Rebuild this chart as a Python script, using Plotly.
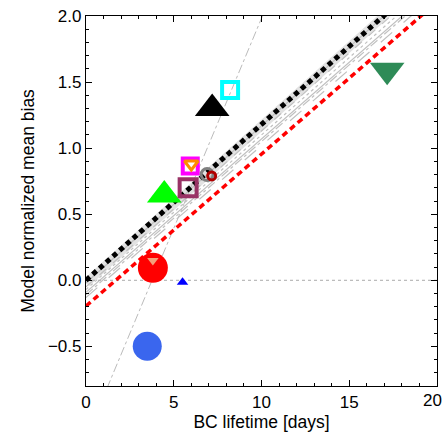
import plotly.graph_objects as go

# Model points: BC lifetime [days] vs normalized mean bias
pt_x = [3.49, 3.81, 3.81, 5.5, 4.46, 5.82, 5.94, 6.0, 6.9, 7.16, 7.19, 8.21, 17.16]
pt_y = [-0.50, 0.094, 0.15, -0.015, 0.645, 0.70, 0.865, 0.88, 0.80, 0.79, 1.30, 1.44, 1.59]
pt_symbol = ["circle", "circle", "triangle-down", "triangle-up", "triangle-up",
             "square-open", "square-open", "triangle-down-open", "circle-open",
             "circle-open", "triangle-up", "square-open", "triangle-down"]
pt_color = ["#3A66EE", "#FF0000", "#F4A07A", "#0000FF", "#00FF00", "#993366",
            "#FF00FF", "#FF8C00", "#808080", "#B00000", "#000000", "#00FFFF", "#2E8B57"]
pt_size = [29, 30, 10, 10, 30, 17, 15, 12, 12, 8, 30, 16, 30]
pt_lw = [0, 0, 0, 0, 0, 4, 4, 3, 3, 3, 0, 4, 0]

# Regression lines (slope, intercept)
black_fit = (0.118, 0.0)
red_fit = (0.115, -0.195)
grey_slopes = [0.119, 0.118, 0.117, 0.116, 0.116, 0.115]
grey_inter = [-0.02, -0.05, -0.07, -0.09, -0.11, -0.13]
grey_dash = ["solid", "dash", "dot", "solid", "dashdot", "longdash"]
steep_fit = (0.318, -1.197)

x_ticks = [0, 5, 10, 15, 20]
x_ticklabels = ["0", "5", "10", "15", "20"]
y_ticks = [-0.5, 0, 0.5, 1.0, 1.5, 2.0]
y_ticklabels = ["\u22120.5", "0.0", "0.5", "1.0", "1.5", "2.0"]

x_line = [0, 20]
FONT = "Liberation Sans, Arial"

fig = go.Figure()

# light grey band
fig.add_trace(go.Scatter(x=x_line, y=[grey_inter[0] + grey_slopes[0]*x for x in x_line],
                         mode="lines", line=dict(color="#e2e2e2", width=9), hoverinfo="skip"))
for s, b, d in zip(grey_slopes, grey_inter, grey_dash):
    fig.add_trace(go.Scatter(x=x_line, y=[b + s*x for x in x_line], mode="lines",
                             line=dict(color="#c0c0c0", width=1.2, dash=d), hoverinfo="skip"))

fig.add_trace(go.Scatter(x=x_line, y=[steep_fit[1] + steep_fit[0]*x for x in x_line],
                         mode="lines", line=dict(color="#bbbbbb", width=1, dash="dashdot")))
fig.add_trace(go.Scatter(x=x_line, y=[0, 0], mode="lines",
                         line=dict(color="#aaaaaa", width=1, dash="dot")))
fig.add_trace(go.Scatter(x=x_line, y=[black_fit[1] + black_fit[0]*x for x in x_line],
                         mode="lines", line=dict(color="#000000", width=5, dash="5px,4px")))
fig.add_trace(go.Scatter(x=x_line, y=[red_fit[1] + red_fit[0]*x for x in x_line],
                         mode="lines", line=dict(color="#FF0000", width=3.5, dash="6px,4px")))

for x, y, sym, c, sz, lw in zip(pt_x, pt_y, pt_symbol, pt_color, pt_size, pt_lw):
    fig.add_trace(go.Scatter(x=[x], y=[y], mode="markers",
                             marker=dict(symbol=sym, color=c, size=sz,
                                         line=dict(color=c, width=lw))))

axis_common = dict(showline=True, linecolor="black", linewidth=1.2, mirror="ticks",
                   ticks="inside", ticklen=6, tickcolor="black", showgrid=False,
                   zeroline=False, tickfont=dict(family=FONT, size=17, color="black"))

fig.update_xaxes(range=[0, 20], tickvals=x_ticks, ticktext=x_ticklabels[:-1] + [""],
                 minor=dict(dtick=1, ticks="inside", ticklen=3, tickcolor="black"),
                 title=dict(text="BC lifetime [days]", font=dict(family=FONT, size=17.5, color="black"), standoff=4),
                 **axis_common)
fig.update_yaxes(range=[-0.8, 2.0], tickvals=y_ticks, ticktext=y_ticklabels,
                 minor=dict(dtick=0.1, ticks="inside", ticklen=3, tickcolor="black"),
                 title=dict(text="Model normalized mean bias", font=dict(family=FONT, size=17.5, color="black"), standoff=8),
                 **axis_common)

# last x tick label, kept inside the page edge
fig.add_annotation(x=x_ticks[-1], y=0, xref="x", yref="paper", yanchor="top", yshift=-3,
                   xanchor="right", xshift=7,
                   text=x_ticklabels[-1], showarrow=False,
                   font=dict(family=FONT, size=17, color="black"))

fig.update_layout(width=445, height=435, margin=dict(l=86, r=7, t=10, b=49),
                  plot_bgcolor="white", paper_bgcolor="white", showlegend=False)

fig.write_html("out.html")
